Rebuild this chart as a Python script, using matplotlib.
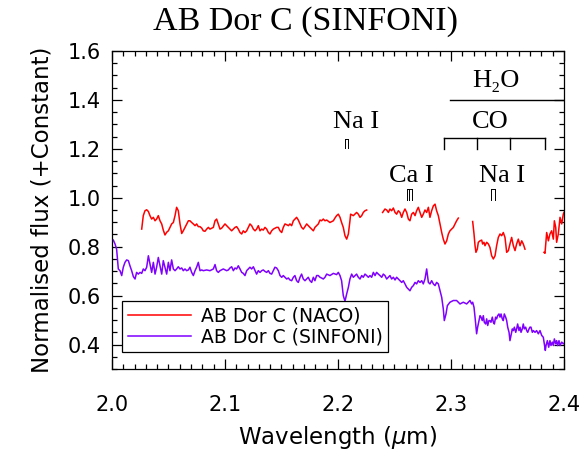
import numpy as np
import matplotlib.pyplot as plt
from matplotlib.ticker import MultipleLocator

# espectro NACO (vermelho), em 4 pedaços separados por falhas
naco_wl_1 = [2.0263, 2.0277, 2.0292, 2.0307, 2.0322, 2.0336, 2.0351, 2.0366, 2.0381, 2.0395,
             2.0410, 2.0425, 2.0440, 2.0454, 2.0469, 2.0484, 2.0499, 2.0513, 2.0528, 2.0543,
             2.0558, 2.0572, 2.0587, 2.0602, 2.0617, 2.0631, 2.0646, 2.0661, 2.0676, 2.0690,
             2.0705, 2.0720, 2.0735, 2.0749, 2.0764, 2.0779, 2.0794, 2.0808, 2.0823, 2.0838,
             2.0853, 2.0867, 2.0897, 2.0912, 2.0926, 2.0941, 2.0956, 2.0971, 2.1000, 2.1030,
             2.1044, 2.1059, 2.1074, 2.1089, 2.1103, 2.1118, 2.1133, 2.1148, 2.1162, 2.1177,
             2.1192, 2.1207, 2.1221, 2.1236, 2.1251, 2.1266, 2.1280, 2.1295, 2.1310, 2.1325,
             2.1339, 2.1354, 2.1369, 2.1384, 2.1398, 2.1413, 2.1428, 2.1457, 2.1472, 2.1487,
             2.1502, 2.1516, 2.1531, 2.1546, 2.1561, 2.1575, 2.1590, 2.1605, 2.1619, 2.1634,
             2.1649, 2.1664, 2.1678, 2.1693, 2.1708, 2.1723, 2.1737, 2.1752, 2.1767, 2.1782,
             2.1796, 2.1811, 2.1826, 2.1841, 2.1855, 2.1870, 2.1885, 2.1900, 2.1929, 2.1959,
             2.1973, 2.1988, 2.2003, 2.2018, 2.2032, 2.2047, 2.2062, 2.2077, 2.2092, 2.2106,
             2.2112, 2.2136, 2.2165, 2.2180, 2.2195, 2.2210, 2.2224, 2.2239, 2.2254]
naco_fx_1 = [0.872, 0.927, 0.947, 0.951, 0.944, 0.927, 0.913, 0.920, 0.906, 0.913,
             0.927, 0.906, 0.893, 0.868, 0.848, 0.859, 0.865, 0.879, 0.893, 0.899,
             0.927, 0.961, 0.947, 0.893, 0.854, 0.865, 0.879, 0.893, 0.906, 0.906,
             0.899, 0.893, 0.886, 0.893, 0.882, 0.882, 0.876, 0.865, 0.863, 0.872,
             0.879, 0.872, 0.879, 0.906, 0.913, 0.893, 0.872, 0.876, 0.893, 0.879,
             0.872, 0.865, 0.872, 0.879, 0.882, 0.872, 0.858, 0.852, 0.865, 0.858,
             0.865, 0.879, 0.893, 0.886, 0.872, 0.865, 0.872, 0.886, 0.865, 0.872,
             0.868, 0.879, 0.872, 0.858, 0.852, 0.865, 0.872, 0.879, 0.879, 0.865,
             0.858, 0.879, 0.893, 0.890, 0.886, 0.893, 0.886, 0.906, 0.913, 0.920,
             0.909, 0.893, 0.879, 0.872, 0.882, 0.893, 0.886, 0.879, 0.872, 0.865,
             0.879, 0.886, 0.893, 0.909, 0.906, 0.913, 0.906, 0.909, 0.899, 0.906,
             0.917, 0.927, 0.933, 0.920, 0.899, 0.879, 0.845, 0.831, 0.852, 0.906,
             0.933, 0.927, 0.940, 0.933, 0.920, 0.927, 0.940, 0.947, 0.950]

naco_wl_2 = [2.2395, 2.2416, 2.2431, 2.2446, 2.2460, 2.2475, 2.2490, 2.2505, 2.2519, 2.2534,
             2.2549, 2.2564, 2.2578, 2.2593, 2.2608, 2.2623, 2.2637, 2.2652, 2.2667, 2.2682,
             2.2696, 2.2711, 2.2726, 2.2741, 2.2755, 2.2770, 2.2785, 2.2800, 2.2814, 2.2829,
             2.2844, 2.2859, 2.2873, 2.2888, 2.2903, 2.2918, 2.2932, 2.2947, 2.2962, 2.2977,
             2.2991, 2.3006, 2.3021, 2.3036, 2.3050, 2.3065]
naco_fx_2 = [0.940, 0.954, 0.950, 0.940, 0.954, 0.947, 0.958, 0.940, 0.933, 0.947,
             0.940, 0.920, 0.940, 0.954, 0.940, 0.913, 0.906, 0.933, 0.940, 0.927,
             0.947, 0.961, 0.940, 0.920, 0.933, 0.950, 0.940, 0.961, 0.920, 0.947,
             0.967, 0.974, 0.947, 0.927, 0.893, 0.858, 0.831, 0.811, 0.824, 0.852,
             0.865, 0.872, 0.879, 0.893, 0.906, 0.917]

naco_wl_3 = [2.3192, 2.3204, 2.3213, 2.3221, 2.3233, 2.3242, 2.3257, 2.3272, 2.3280, 2.3292,
             2.3301, 2.3316, 2.3331, 2.3345, 2.3360, 2.3375, 2.3390, 2.3404, 2.3419, 2.3434,
             2.3449, 2.3463, 2.3478, 2.3493, 2.3508, 2.3522, 2.3537, 2.3552, 2.3567, 2.3581,
             2.3596, 2.3611, 2.3626, 2.3640, 2.3655]
naco_fx_3 = [0.903, 0.852, 0.804, 0.777, 0.790, 0.818, 0.824, 0.827, 0.811, 0.818,
             0.804, 0.818, 0.811, 0.797, 0.763, 0.750, 0.763, 0.804, 0.838, 0.852,
             0.845, 0.858, 0.838, 0.777, 0.784, 0.811, 0.838, 0.804, 0.784, 0.811,
             0.831, 0.804, 0.824, 0.811, 0.790]

naco_wl_4 = [2.3823, 2.3832, 2.3847, 2.3862, 2.3876, 2.3891, 2.3906, 2.3915, 2.3927, 2.3935,
             2.3950, 2.3965, 2.3980, 2.3994, 2.4000]
naco_fx_4 = [0.777, 0.773, 0.858, 0.824, 0.852, 0.865, 0.831, 0.906, 0.879, 0.818,
             0.852, 0.920, 0.893, 0.933, 0.940]

# espectro SINFONI (violeta)
sinfoni_wl = [2.0000, 2.0012, 2.0027, 2.0041, 2.0056, 2.0071, 2.0086, 2.0100, 2.0115, 2.0130,
              2.0145, 2.0159, 2.0174, 2.0189, 2.0204, 2.0218, 2.0233, 2.0248, 2.0263, 2.0277,
              2.0292, 2.0307, 2.0322, 2.0336, 2.0351, 2.0366, 2.0381, 2.0395, 2.0410, 2.0425,
              2.0440, 2.0454, 2.0469, 2.0484, 2.0499, 2.0513, 2.0528, 2.0543, 2.0558, 2.0572,
              2.0587, 2.0602, 2.0617, 2.0631, 2.0646, 2.0661, 2.0676, 2.0690, 2.0705, 2.0720,
              2.0735, 2.0749, 2.0764, 2.0779, 2.0794, 2.0808, 2.0838, 2.0867, 2.0897, 2.0912,
              2.0926, 2.0941, 2.0956, 2.0985, 2.1015, 2.1030, 2.1044, 2.1059, 2.1074, 2.1089,
              2.1103, 2.1118, 2.1133, 2.1148, 2.1162, 2.1177, 2.1192, 2.1207, 2.1221, 2.1236,
              2.1251, 2.1266, 2.1280, 2.1295, 2.1310, 2.1325, 2.1339, 2.1354, 2.1369, 2.1384,
              2.1398, 2.1413, 2.1428, 2.1442, 2.1457, 2.1472, 2.1487, 2.1502, 2.1516, 2.1531,
              2.1546, 2.1561, 2.1575, 2.1590, 2.1605, 2.1619, 2.1634, 2.1649, 2.1664, 2.1678,
              2.1693, 2.1708, 2.1723, 2.1737, 2.1752, 2.1767, 2.1782, 2.1796, 2.1811, 2.1826,
              2.1841, 2.1855, 2.1870, 2.1885, 2.1900, 2.1929, 2.1959, 2.1988, 2.2003, 2.2018,
              2.2032, 2.2047, 2.2062, 2.2077, 2.2092, 2.2106, 2.2121, 2.2136, 2.2151, 2.2165,
              2.2180, 2.2195, 2.2210, 2.2224, 2.2239, 2.2254, 2.2269, 2.2283, 2.2298, 2.2313,
              2.2328, 2.2342, 2.2357, 2.2372, 2.2387, 2.2401, 2.2416, 2.2431, 2.2446, 2.2460,
              2.2475, 2.2490, 2.2505, 2.2519, 2.2534, 2.2549, 2.2564, 2.2578, 2.2593, 2.2608,
              2.2623, 2.2637, 2.2652, 2.2667, 2.2682, 2.2696, 2.2711, 2.2726, 2.2741, 2.2755,
              2.2770, 2.2785, 2.2794, 2.2800, 2.2814, 2.2829, 2.2844, 2.2859, 2.2873, 2.2888,
              2.2903, 2.2918, 2.2932, 2.2941, 2.2956, 2.2968, 2.2991, 2.3021, 2.3050, 2.3080,
              2.3109, 2.3139, 2.3168, 2.3183, 2.3192, 2.3204, 2.3213, 2.3221, 2.3227, 2.3236,
              2.3248, 2.3257, 2.3266, 2.3277, 2.3286, 2.3295, 2.3307, 2.3316, 2.3325, 2.3336,
              2.3345, 2.3354, 2.3366, 2.3375, 2.3384, 2.3395, 2.3404, 2.3413, 2.3425, 2.3434,
              2.3443, 2.3454, 2.3463, 2.3472, 2.3484, 2.3493, 2.3502, 2.3514, 2.3522, 2.3531,
              2.3543, 2.3552, 2.3561, 2.3573, 2.3581, 2.3590, 2.3602, 2.3611, 2.3620, 2.3631,
              2.3640, 2.3649, 2.3661, 2.3670, 2.3679, 2.3691, 2.3699, 2.3708, 2.3720, 2.3729,
              2.3744, 2.3758, 2.3773, 2.3788, 2.3803, 2.3817, 2.3826, 2.3835, 2.3841, 2.3853,
              2.3865, 2.3876, 2.3885, 2.3897, 2.3906, 2.3915, 2.3927, 2.3935, 2.3944, 2.3956,
              2.3965, 2.3980, 2.3994, 2.4000]
sinfoni_fx = [0.831, 0.827, 0.811, 0.790, 0.709, 0.702, 0.682, 0.716, 0.736, 0.746,
              0.743, 0.722, 0.702, 0.678, 0.668, 0.695, 0.688, 0.695, 0.691, 0.709,
              0.702, 0.716, 0.763, 0.729, 0.695, 0.736, 0.688, 0.716, 0.756, 0.722,
              0.688, 0.743, 0.716, 0.688, 0.736, 0.702, 0.746, 0.709, 0.702, 0.709,
              0.718, 0.709, 0.713, 0.702, 0.709, 0.702, 0.705, 0.716, 0.695, 0.682,
              0.702, 0.716, 0.736, 0.702, 0.705, 0.702, 0.705, 0.702, 0.709, 0.727,
              0.702, 0.695, 0.702, 0.709, 0.702, 0.705, 0.713, 0.718, 0.702, 0.713,
              0.709, 0.722, 0.709, 0.695, 0.691, 0.682, 0.702, 0.709, 0.716, 0.709,
              0.718, 0.702, 0.688, 0.702, 0.695, 0.702, 0.705, 0.699, 0.695, 0.702,
              0.691, 0.688, 0.702, 0.716, 0.713, 0.702, 0.682, 0.675, 0.682, 0.675,
              0.668, 0.672, 0.664, 0.661, 0.675, 0.682, 0.661, 0.654, 0.675, 0.688,
              0.668, 0.661, 0.668, 0.675, 0.661, 0.654, 0.675, 0.661, 0.682, 0.682,
              0.675, 0.672, 0.668, 0.675, 0.688, 0.682, 0.691, 0.686, 0.695, 0.682,
              0.661, 0.600, 0.577, 0.607, 0.634, 0.668, 0.688, 0.675, 0.682, 0.688,
              0.675, 0.668, 0.682, 0.675, 0.688, 0.682, 0.675, 0.682, 0.675, 0.695,
              0.682, 0.695, 0.688, 0.682, 0.675, 0.688, 0.682, 0.668, 0.675, 0.682,
              0.668, 0.675, 0.664, 0.675, 0.668, 0.661, 0.654, 0.661, 0.648, 0.634,
              0.627, 0.620, 0.634, 0.641, 0.654, 0.648, 0.661, 0.654, 0.661, 0.648,
              0.668, 0.709, 0.675, 0.654, 0.648, 0.661, 0.648, 0.641, 0.654, 0.648,
              0.620, 0.593, 0.546, 0.498, 0.525, 0.559, 0.573, 0.580, 0.580, 0.566,
              0.573, 0.566, 0.580, 0.566, 0.573, 0.552, 0.512, 0.471, 0.444, 0.471,
              0.498, 0.518, 0.512, 0.498, 0.518, 0.491, 0.484, 0.505, 0.478, 0.498,
              0.498, 0.491, 0.512, 0.491, 0.484, 0.512, 0.505, 0.518, 0.525, 0.512,
              0.525, 0.505, 0.498, 0.525, 0.512, 0.498, 0.471, 0.450, 0.416, 0.437,
              0.464, 0.457, 0.471, 0.450, 0.464, 0.484, 0.457, 0.471, 0.450, 0.464,
              0.484, 0.464, 0.471, 0.457, 0.450, 0.464, 0.471, 0.471, 0.450, 0.457,
              0.450, 0.457, 0.444, 0.457, 0.437, 0.430, 0.403, 0.376, 0.396, 0.416,
              0.389, 0.416, 0.396, 0.410, 0.396, 0.423, 0.403, 0.416, 0.396, 0.416,
              0.396, 0.410, 0.403, 0.405]

# posições das riscas (micron)
na_i_1 = [2.2062, 2.2090]
ca_i = [2.2614, 2.2631, 2.2657]
na_i_2 = [2.3355, 2.3386]
co_heads = [2.2935, 2.3227, 2.3525, 2.3830]
h2o_start = 2.299

red = '#ff0000'
violet = '#7f00ff'
serif = ['Liberation Serif', 'DejaVu Serif']

fig = plt.figure(figsize=(5.86, 4.51), dpi=100)
ax = fig.add_axes([0.1911, 0.1818, 0.7713, 0.7051])

ax.plot(naco_wl_1, naco_fx_1, color=red, lw=1.1, label='AB Dor C (NACO)')
for wl, fx in [(naco_wl_2, naco_fx_2), (naco_wl_3, naco_fx_3), (naco_wl_4, naco_fx_4)]:
    ax.plot(wl, fx, color=red, lw=1.1)
ax.plot(sinfoni_wl, sinfoni_fx, color=violet, lw=1.1, label='AB Dor C (SINFONI)')

ax.set_xlim(2.0, 2.4)
ax.set_ylim(0.3, 1.6)
ax.xaxis.set_major_locator(MultipleLocator(0.1))
ax.xaxis.set_minor_locator(MultipleLocator(0.01))
ax.yaxis.set_major_locator(MultipleLocator(0.2))
ax.yaxis.set_minor_locator(MultipleLocator(0.05))
ax.xaxis.set_major_formatter(lambda v, p: f'{v:.1f}')
ax.yaxis.set_major_formatter(lambda v, p: f'{v:.1f}')
ax.tick_params(which='both', direction='in', top=True, right=True, width=0.9)
ax.tick_params(which='major', length=7)
ax.tick_params(which='minor', length=3.5)
ax.tick_params(axis='x', which='major', pad=19, labelsize=15)
ax.tick_params(axis='y', which='major', pad=8, labelsize=15)
for s in ax.spines.values():
    s.set_linewidth(0.9)

ax.set_xlabel(r'Wavelength ($\mu$m)', fontsize=16.5, labelpad=6)
ax.set_ylabel('Normalised flux (+Constant)', fontsize=16.5, labelpad=10)

fig.text(0.522, 0.951, 'AB Dor C (SINFONI)', family=serif, fontsize=24.5,
         ha='center', va='center')

# marcas das riscas atómicas
def marca(linhas, y0, y1):
    for w in linhas:
        ax.plot([w, w], [y0, y1], color='k', lw=0.7)
    ax.plot([min(linhas), max(linhas)], [y1, y1], color='k', lw=0.7)

marca(na_i_1, 1.204, 1.241)
marca(ca_i, 0.992, 1.037)
marca(na_i_2, 0.992, 1.037)
ax.text(2.216, 1.31, 'Na I', family=serif, fontsize=19, ha='center', va='center')
ax.text(2.265, 1.09, 'Ca I', family=serif, fontsize=19, ha='center', va='center')
ax.text(2.345, 1.09, 'Na I', family=serif, fontsize=19, ha='center', va='center')

# bandas de CO
ax.plot([co_heads[0], co_heads[-1]], [1.245, 1.245], color='k', lw=1.0)
for w in co_heads:
    ax.plot([w, w], [1.2, 1.245], color='k', lw=1.0)
ax.text(2.3345, 1.31, 'CO', family=serif, fontsize=19, ha='center', va='center')

# banda de H2O
ax.plot([h2o_start, 2.4], [1.4, 1.4], color='k', lw=1.0)
ax.text(2.340, 1.478, 'H₂O', family=serif, fontsize=19, ha='center', va='center')

leg = ax.legend(loc='lower left', bbox_to_anchor=(0.022, 0.053), fontsize=13.5,
                frameon=True, fancybox=False, edgecolor='k', framealpha=1,
                handlelength=3.4, handletextpad=0.5, labelspacing=0.1,
                borderpad=0.3, borderaxespad=0)
leg.get_frame().set_linewidth(0.9)

plt.savefig('out.png', dpi=100)
